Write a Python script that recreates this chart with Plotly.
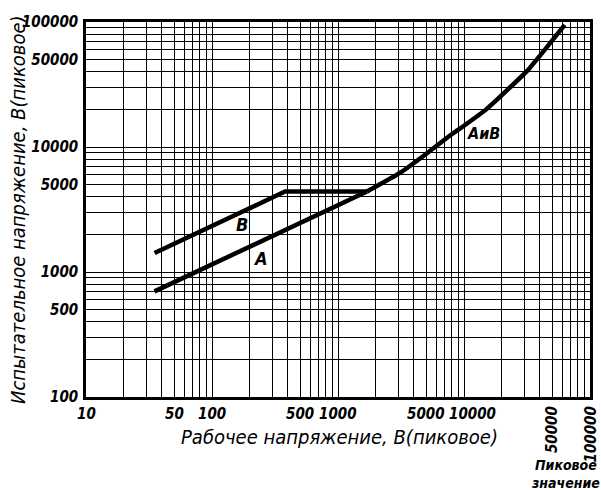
import math
import plotly.graph_objects as go

# Curve A (straight part up to the junction)
a_x = [35, 1700]
a_y = [700, 4400]
# Curve B
b_x = [35, 380, 1700]
b_y = [1420, 4400, 4400]
# Common part "А и В"
ab_x = [1700, 3100, 5000, 7700, 10000, 15000, 22000, 32000, 45000, 63000]
ab_y = [4400, 6200, 8800, 12300, 14800, 20000, 28500, 41000, 62000, 95000]

x_label_vals = [10, 50, 100, 500, 1000, 5000, 10000]
x_label_text = ["10", "50", "100", "500", "1000", "5000", "10000"]
x_rot_vals = [50000, 100000]
x_rot_text = ["50000", "100000"]
y_label_vals = [100, 500, 1000, 5000, 10000, 50000, 100000]
y_label_text = ["100", "500", "1000", "5000", "10000", "50000", "100000"]

x_title = "Рабочее напряжение, В(пиковое)"
y_title = "Испытательное напряжение, В(пиковое)"
peak_note = "Пиковое<br>значение"

FONT = "DejaVu Sans Condensed, Liberation Sans Narrow, DejaVu Sans, sans-serif"


def grid_vals(lo_exp, hi_exp):
    vals = []
    for e in range(lo_exp, hi_exp):
        for m in range(1, 10):
            vals.append(m * 10 ** e)
    vals.append(10 ** hi_exp)
    return vals


xg = grid_vals(1, 5)
yg = grid_vals(2, 5)
yt = [y_label_text[y_label_vals.index(v)] if v in y_label_vals else "" for v in yg]

line_style = dict(color="black", width=4.5)
fig = go.Figure()
fig.add_trace(go.Scatter(x=a_x, y=a_y, mode="lines", line=line_style, hoverinfo="skip"))
fig.add_trace(go.Scatter(x=b_x, y=b_y, mode="lines", line=line_style, hoverinfo="skip"))
fig.add_trace(go.Scatter(x=ab_x, y=ab_y, mode="lines",
                         line=dict(color="black", width=4.5, shape="spline", smoothing=0.4),
                         hoverinfo="skip"))

tickfont = dict(family=FONT, size=15, color="black", style="italic", weight="bold")

fig.update_layout(
    width=601, height=490,
    margin=dict(l=86, r=11, t=22, b=93, autoexpand=False),
    paper_bgcolor="white", plot_bgcolor="white",
    showlegend=False,
    xaxis=dict(type="log", range=[1, 5], tickvals=xg, ticktext=[""] * len(xg),
               showgrid=True, gridcolor="black", gridwidth=1.3, automargin=False,
               showline=True, linecolor="black", linewidth=2.5, mirror=True,
               ticks="", zeroline=False),
    yaxis=dict(type="log", range=[2, 5], tickvals=yg, ticktext=yt, automargin=False,
               showgrid=True, gridcolor="black", gridwidth=1.3,
               showline=True, linecolor="black", linewidth=2.5, mirror=True,
               ticks="", tickfont=tickfont, zeroline=False, ticklabelstandoff=2),
)

# x tick labels (horizontal)
for v, t in zip(x_label_vals, x_label_text):
    fig.add_annotation(x=math.log10(v), xref="x", y=-0.015, yref="paper", text=t,
                       showarrow=False, yanchor="top", xanchor="center",
                       xshift=8 if v == 10000 else 0, font=tickfont)
# x tick labels (rotated)
for v, t in zip(x_rot_vals, x_rot_text):
    fig.add_annotation(x=math.log10(v), xref="x", y=-0.02, yref="paper", text=t,
                       textangle=-90, showarrow=False, yanchor="top", xanchor="center",
                       font=tickfont)

fig.add_annotation(x=2.238, y=3.384, xref="x", yref="y", text="В", showarrow=False,
                   font=dict(family=FONT, size=18, color="black", style="italic", weight="bold"))
fig.add_annotation(x=2.381, y=3.112, xref="x", yref="y", text="А", showarrow=False,
                   font=dict(family=FONT, size=18, color="black", style="italic", weight="bold"))
fig.add_annotation(x=4.151, y=4.112, xref="x", yref="y", text="АиВ", showarrow=False,
                   font=dict(family=FONT, size=16, color="black", style="italic", weight="bold"))

fig.add_annotation(x=(565 - 86) / 504, xref="paper", y=(397 - 455) / 375, yref="paper",
                   text=peak_note, showarrow=False, xanchor="center", yanchor="top",
                   font=dict(family=FONT, size=14, color="black", style="italic", weight="bold"))

fig.add_annotation(x=(339 - 86) / 504, xref="paper", y=(397 - 437) / 375, yref="paper",
                   text=x_title, showarrow=False, xanchor="center", yanchor="middle",
                   font=dict(family=FONT, size=20, color="black", style="italic"))
fig.add_annotation(x=(18 - 86) / 504, xref="paper", y=(397 - 210) / 375, yref="paper",
                   text=y_title, showarrow=False, textangle=-90, xanchor="center", yanchor="middle",
                   font=dict(family=FONT, size=20, color="black", style="italic"))

fig.write_html("out.html", config={"displayModeBar": False},
               post_script="document.body.style.margin='0';document.body.style.overflow='hidden';")
